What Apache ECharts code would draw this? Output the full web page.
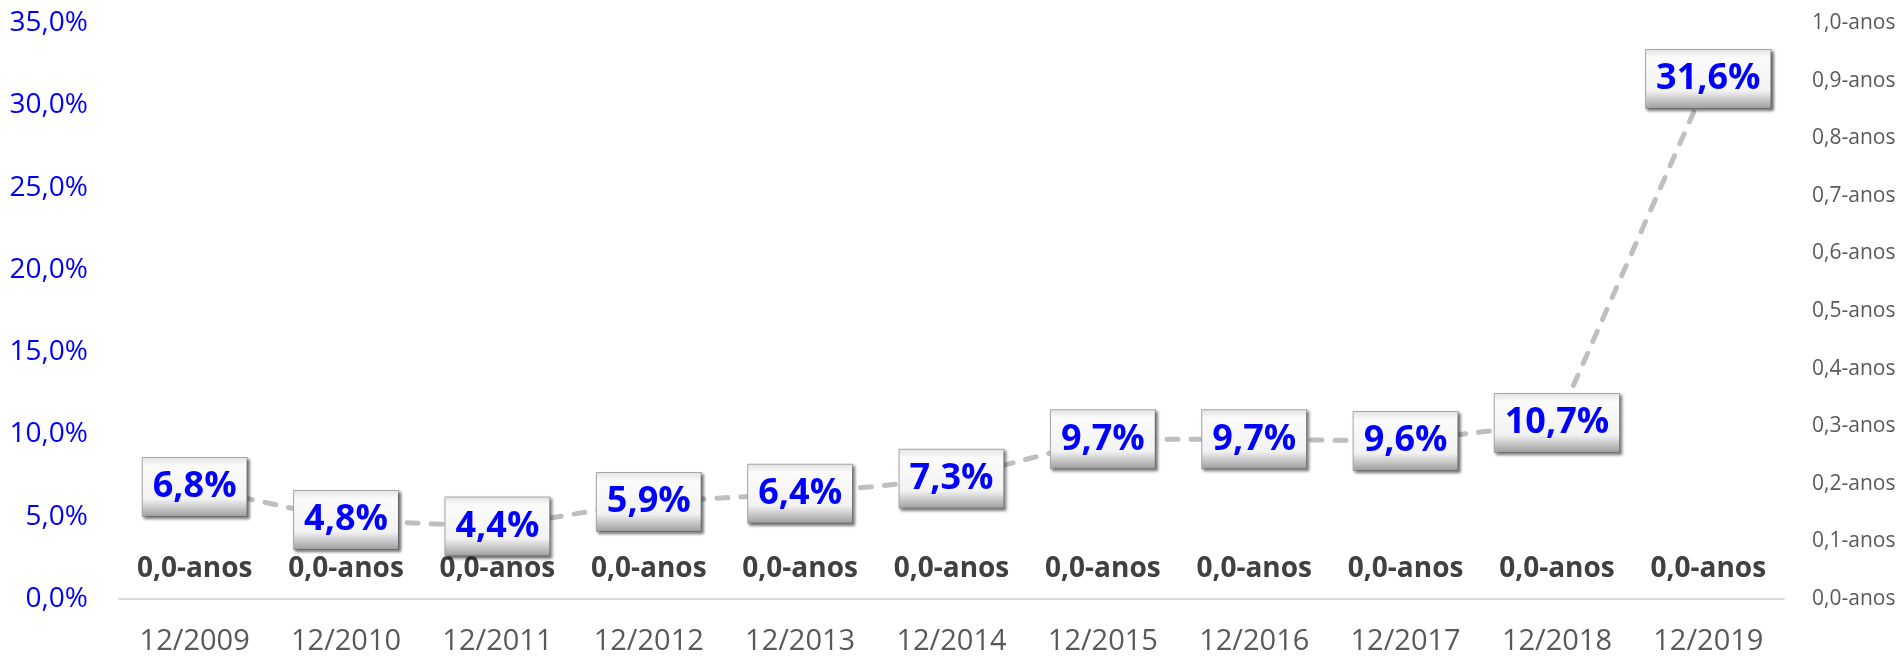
<!DOCTYPE html>
<html>
<head>
    <meta charset="utf-8">
    <title>taxa</title>
    <script src="https://cdn.jsdelivr.net/npm/echarts@6/dist/echarts.min.js"></script>
</head>
<body style="margin:0;background:#fff;">
    <div id="main" style="width:1903px;height:661px;"></div>
    <script type="text/javascript">
        // dados do grafico
        var categorias = ['12/2009', '12/2010', '12/2011', '12/2012', '12/2013', '12/2014', '12/2015', '12/2016', '12/2017', '12/2018', '12/2019'];
        var taxa = [6.8, 4.8, 4.4, 5.9, 6.4, 7.3, 9.7, 9.7, 9.6, 10.7, 31.6];
        var anos = [0, 0, 0, 0, 0, 0, 0, 0, 0, 0, 0];

        var fonte = '"Open Sans", sans-serif';
        function virgula(v) { return v.toFixed(1).replace('.', ','); }

        var myChart = echarts.init(document.getElementById('main'));

        // caixa com efeito chanfrado
        var fundoCaixa = new echarts.graphic.LinearGradient(0, 0, 0, 1, [
            { offset: 0, color: '#e2e2e2' },
            { offset: 0.15, color: '#fbfbfb' },
            { offset: 0.7, color: '#f2f2f2' },
            { offset: 1, color: '#9c9c9c' }
        ]);

        var option = {
            backgroundColor: '#fff',
            animation: false,
            grid: { left: 119, right: 119, top: 23, bottom: 62 },
            xAxis: {
                type: 'category',
                data: categorias,
                axisLine: { lineStyle: { color: '#d9d9d9', width: 2 } },
                axisTick: { show: false },
                axisLabel: { color: '#595959', fontFamily: fonte, fontSize: 29, margin: 28 }
            },
            yAxis: [
                {
                    type: 'value', min: 0, max: 35, interval: 5,
                    axisLine: { show: false }, axisTick: { show: false }, splitLine: { show: false },
                    axisLabel: {
                        color: '#0000ff', fontFamily: fonte, fontSize: 28, margin: 31,
                        formatter: function (v) { return virgula(v) + '%'; }
                    }
                },
                {
                    type: 'value', min: 0, max: 1, interval: 0.1,
                    axisLine: { show: false }, axisTick: { show: false }, splitLine: { show: false },
                    axisLabel: {
                        color: '#595959', fontFamily: fonte, fontSize: 21, margin: 28,
                        formatter: function (v) { return virgula(v) + '-anos'; }
                    }
                }
            ],
            series: [
                {
                    name: 'anos',
                    type: 'line',
                    yAxisIndex: 1,
                    data: anos,
                    symbol: 'circle',
                    symbolSize: 1,
                    itemStyle: { color: 'rgba(0,0,0,0)' },
                    lineStyle: { opacity: 0 },
                    label: {
                        show: true, position: 'top', distance: 13,
                        color: '#404040', fontFamily: fonte, fontSize: 28, fontWeight: 'bold', lineHeight: 32,
                        formatter: function (p) { return virgula(p.value) + '-anos'; }
                    }
                },
                {
                    name: 'taxa',
                    type: 'line',
                    data: taxa,
                    symbol: 'circle',
                    symbolSize: 2,
                    itemStyle: { color: '#bfbfbf' },
                    lineStyle: { color: '#bfbfbf', width: 5, type: [11, 13], cap: 'round' },
                    label: {
                        show: true, position: 'inside',
                        color: '#0000ff', fontFamily: fonte, fontSize: 36, fontWeight: 'bold', lineHeight: 42,
                        padding: [8, 10, 8, 10],
                        backgroundColor: fundoCaixa,
                        borderColor: '#a8a8a8', borderWidth: 1,
                        shadowColor: 'rgba(0,0,0,0.5)', shadowBlur: 3, shadowOffsetX: 2, shadowOffsetY: 2,
                        formatter: function (p) { return virgula(p.value) + '%'; }
                    }
                }
            ]
        };

        myChart.setOption(option);
    </script>
</body>
</html>
